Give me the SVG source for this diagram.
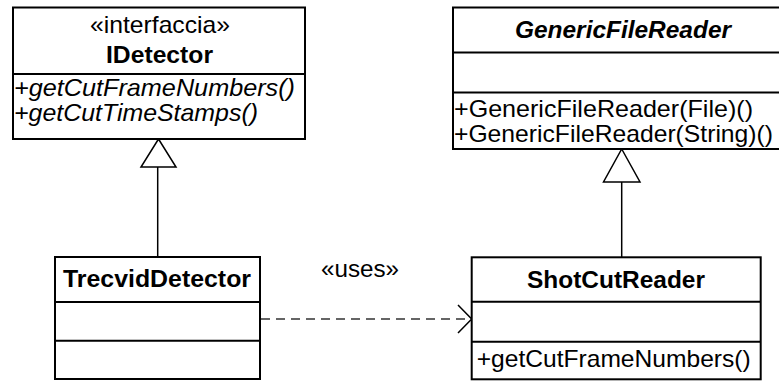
<svg xmlns="http://www.w3.org/2000/svg" width="779" height="381" viewBox="0 0 779 381">
  <style>
    .box { fill: #ffffff; stroke: #000000; stroke-width: 2; }
    .div { stroke: #000000; stroke-width: 2; }
    text { font-family: "Liberation Sans", Arial, sans-serif; font-size: 24px; fill: #000000; }
    .title { font-weight: bold; text-anchor: middle; }
    .ab { font-weight: bold; font-style: italic; text-anchor: middle; }
    .st { text-anchor: middle; }
    .op { font-style: italic; }
    .gen { fill: #ffffff; stroke: #000000; stroke-width: 1.5; }
    .line { stroke: #000000; stroke-width: 1.5; fill: none; }
    .dash { stroke: #333333; stroke-width: 1.5; fill: none; stroke-dasharray: 9 6; }
  </style>

  <g id="connectors">
    <!-- TrecvidDetector realizes IDetector -->
    <line class="line" x1="157.7" y1="167" x2="157.7" y2="257"/>
    <polygon class="gen" points="158.5,139 176,167 141,167"/>
    <!-- ShotCutReader extends GenericFileReader -->
    <line class="line" x1="621.7" y1="182" x2="621.7" y2="257"/>
    <polygon class="gen" points="621.7,149 640,182 603.5,182"/>
    <!-- dependency: TrecvidDetector uses ShotCutReader -->
    <line class="dash" x1="261" y1="319" x2="470" y2="319"/>
    <polyline class="line" points="458,305 471.7,319 458,333"/>
    <text class="st" x="360" y="277" textLength="78" lengthAdjust="spacingAndGlyphs">«uses»</text>
  </g>

  <g id="IDetector">
    <rect class="box" x="13" y="7.5" width="292" height="131.5"/>
    <line class="div" x1="13" y1="74" x2="305" y2="74"/>
    <text class="st" x="160" y="33" textLength="140" lengthAdjust="spacingAndGlyphs">«interfaccia»</text>
    <text class="title" x="159.5" y="63" textLength="107" lengthAdjust="spacingAndGlyphs">IDetector</text>
    <text class="op" x="14" y="96" textLength="281" lengthAdjust="spacingAndGlyphs">+getCutFrameNumbers()</text>
    <text class="op" x="14" y="121" textLength="244" lengthAdjust="spacingAndGlyphs">+getCutTimeStamps()</text>
  </g>

  <g id="GenericFileReader">
    <rect class="box" x="453" y="7.5" width="340" height="141.5"/>
    <line class="div" x1="453" y1="52.5" x2="793" y2="52.5"/>
    <line class="div" x1="453" y1="92.5" x2="793" y2="92.5"/>
    <text class="ab" x="623" y="38" textLength="216" lengthAdjust="spacingAndGlyphs">GenericFileReader</text>
    <text x="454" y="117" textLength="299" lengthAdjust="spacingAndGlyphs">+GenericFileReader(File)()</text>
    <text x="454" y="142" textLength="319" lengthAdjust="spacingAndGlyphs">+GenericFileReader(String)()</text>
  </g>

  <g id="TrecvidDetector">
    <rect class="box" x="55" y="257" width="205" height="122"/>
    <line class="div" x1="55" y1="302" x2="260" y2="302"/>
    <line class="div" x1="55" y1="340.7" x2="260" y2="340.7"/>
    <text class="title" x="157" y="287" textLength="188" lengthAdjust="spacingAndGlyphs">TrecvidDetector</text>
  </g>

  <g id="ShotCutReader">
    <rect class="box" x="471.7" y="257.3" width="289" height="122"/>
    <line class="div" x1="471.7" y1="301.7" x2="760.7" y2="301.7"/>
    <line class="div" x1="471.7" y1="341.7" x2="760.7" y2="341.7"/>
    <text class="title" x="616" y="288" textLength="178" lengthAdjust="spacingAndGlyphs">ShotCutReader</text>
    <text x="476.7" y="367" textLength="274" lengthAdjust="spacingAndGlyphs">+getCutFrameNumbers()</text>
  </g>
</svg>
